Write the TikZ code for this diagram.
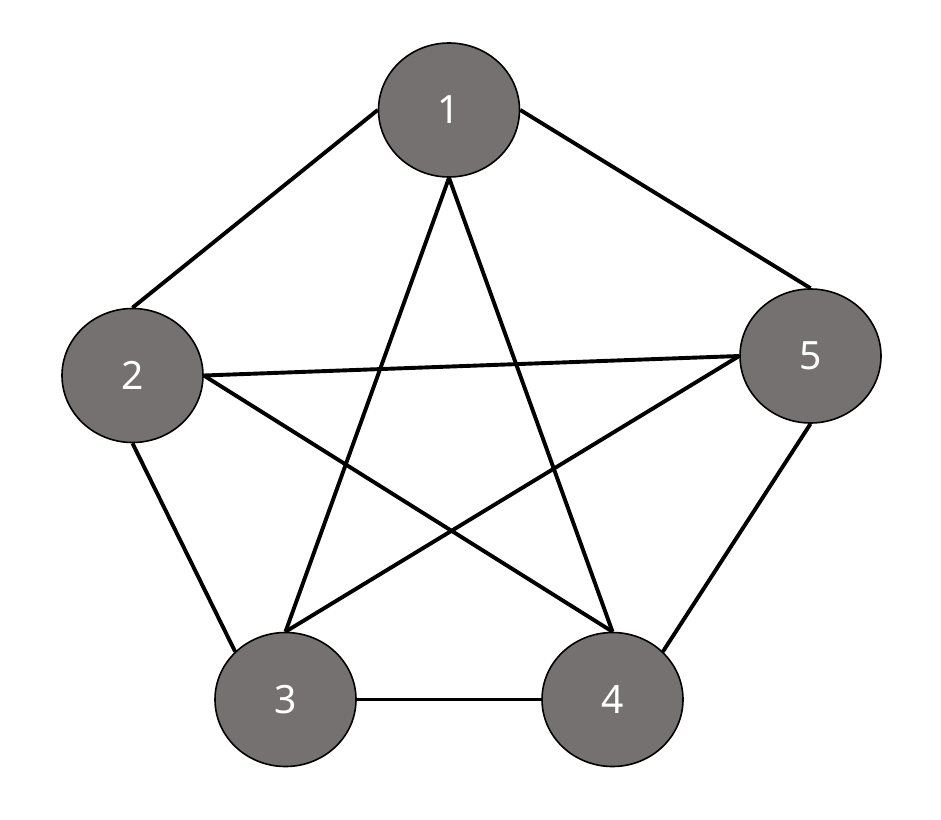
\documentclass[tikz,border=0pt]{standalone}
\usepackage{fontspec}
\setmainfont{Noto Sans}
\usetikzlibrary{shapes.geometric,backgrounds}
\definecolor{nodegray}{HTML}{767171}
\tikzset{
  vert/.style={ellipse, draw=black, line width=1.6pt, fill=nodegray,
    minimum width=141pt, minimum height=134pt, inner sep=0pt,
    text=white, font=\fontsize{39}{42}\selectfont},
  edge/.style={draw=black, line width=3.9pt}
}
\begin{document}
\begin{tikzpicture}[x=1pt,y=-1pt]
\useasboundingbox (0,0) rectangle (941,819);
\node[vert] (n1) at (449,110) {1};
\node[vert] (n2) at (132.5,375.5) {2};
\node[vert] (n3) at (285.5,699.5) {3};
\node[vert] (n4) at (612.5,699.5) {4};
\node[vert] (n5) at (810.5,356) {5};
\begin{scope}[on background layer]
\draw[edge] (n1.west) -- (n2.north);
\draw[edge] (n1.south) -- (n3.north);
\draw[edge] (n1.south) -- (n4.north);
\draw[edge] (n1.east) -- (n5.north);
\draw[edge] (n2.east) -- (n5.west);
\draw[edge] (n2.east) -- (n4.north);
\draw[edge] (n2.south) -- (n3.north west);
\draw[edge] (n5.west) -- (n3.north);
\draw[edge] (n5.south) -- (n4.north east);
\draw[edge] (n3.east) -- (n4.west);
\end{scope}
\end{tikzpicture}
\end{document}
